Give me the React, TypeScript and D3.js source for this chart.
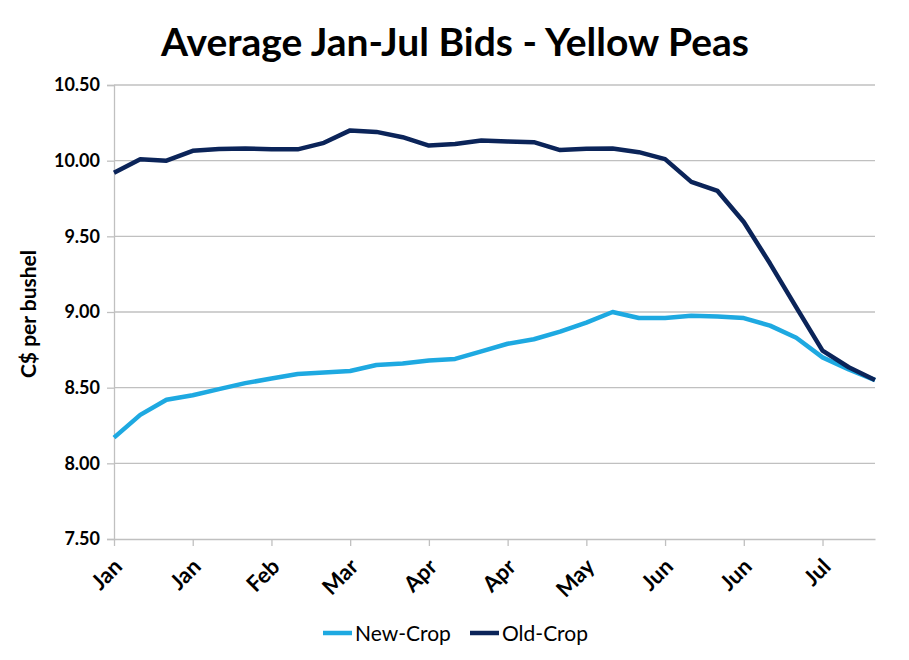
import React, { useEffect, useRef } from 'react';
import * as d3 from 'd3';

// weekly bids, Jan-Jul
const weeks = [
  'Jan', 'Jan', 'Jan', 'Jan', 'Feb', 'Feb', 'Feb', 'Feb', 'Mar', 'Mar',
  'Mar', 'Mar', 'Apr', 'Apr', 'Apr', 'Apr', 'Apr', 'May', 'May', 'May',
  'May', 'Jun', 'Jun', 'Jun', 'Jun', 'Jul', 'Jul', 'Jul', 'Jul', 'Jul',
];

const newCrop = [
  8.17, 8.32, 8.42, 8.45, 8.49, 8.53, 8.56, 8.59, 8.60, 8.61,
  8.65, 8.66, 8.68, 8.69, 8.74, 8.79, 8.82, 8.87, 8.93, 9.00,
  8.96, 8.96, 8.975, 8.97, 8.96, 8.91, 8.83, 8.70, 8.62, 8.55,
];

const oldCrop = [
  9.92, 10.01, 10.00, 10.065, 10.077, 10.08, 10.075, 10.075, 10.118, 10.20,
  10.19, 10.155, 10.10, 10.11, 10.133, 10.127, 10.122, 10.07, 10.078, 10.08,
  10.056, 10.01, 9.86, 9.80, 9.595, 9.32, 9.03, 8.745, 8.635, 8.55,
];

const yTicks = [7.5, 8.0, 8.5, 9.0, 9.5, 10.0, 10.5];

const NEW_COLOR = '#1ea9e1';
const OLD_COLOR = '#0b2459';
const GRID = '#c0c0c0';
const FONT = 'Lato, "Open Sans", sans-serif';

export default function App() {
  const svgRef = useRef<SVGSVGElement>(null);

  useEffect(() => {
    if (!svgRef.current) return;
    const width = 909;
    const height = 660;
    const margin = { top: 85, right: 34, bottom: 121, left: 114 };
    const w = width - margin.left - margin.right;
    const h = height - margin.top - margin.bottom;

    const svg = d3.select(svgRef.current);
    svg.selectAll('*').remove();

    svg.append('text')
      .attr('x', 455)
      .attr('y', 56)
      .attr('text-anchor', 'middle')
      .attr('font-family', FONT)
      .attr('font-weight', 'bold')
      .attr('font-size', 39)
      .attr('fill', '#000')
      .text('Average Jan-Jul Bids - Yellow Peas');

    const g = svg.append('g').attr('transform', `translate(${margin.left},${margin.top})`);

    const x = d3.scaleLinear().domain([0, weeks.length - 1]).range([0, w]);
    const y = d3.scaleLinear().domain([7.5, 10.5]).range([h, 0]);

    // gridlines
    g.append('g')
      .selectAll('line')
      .data(yTicks.slice(1))
      .join('line')
      .attr('x1', 0)
      .attr('x2', w)
      .attr('y1', d => y(d))
      .attr('y2', d => y(d))
      .attr('stroke', GRID)
      .attr('stroke-width', 1.3);

    // y axis
    const yAxis = g.append('g')
      .call(d3.axisLeft(y).tickValues(yTicks).tickSize(7).tickPadding(7).tickFormat(d3.format('.2f')));
    yAxis.select('.domain').attr('stroke', GRID).attr('stroke-width', 1.3);
    yAxis.selectAll('.tick line').attr('stroke', GRID).attr('stroke-width', 1.3);
    yAxis.selectAll('.tick text')
      .attr('font-family', FONT)
      .attr('font-weight', 'bold')
      .attr('font-size', 18)
      .attr('fill', '#000');

    // x axis, a label every 3rd week
    const labelIdx = d3.range(0, weeks.length, 3).filter(i => i < weeks.length - 1);
    const xAxis = g.append('g')
      .attr('transform', `translate(0,${h})`)
      .call(d3.axisBottom(x).tickValues(labelIdx).tickSize(7).tickSizeOuter(0).tickFormat(i => weeks[+i]));
    xAxis.select('.domain').attr('stroke', GRID).attr('stroke-width', 1.3);
    xAxis.selectAll('.tick line').attr('stroke', GRID).attr('stroke-width', 1.3);
    xAxis.selectAll('.tick text')
      .attr('font-family', FONT)
      .attr('font-weight', 'bold')
      .attr('font-size', 22)
      .attr('fill', '#000')
      .attr('text-anchor', 'end')
      .attr('dy', 0)
      .attr('transform', 'translate(2,22) rotate(-45)');

    // y title
    svg.append('text')
      .attr('transform', `translate(36,314) rotate(-90)`)
      .attr('text-anchor', 'middle')
      .attr('font-family', FONT)
      .attr('font-weight', 'bold')
      .attr('font-size', 21)
      .attr('fill', '#000')
      .text('C$ per bushel');

    const line = d3.line<number>()
      .x((_, i) => x(i))
      .y(d => y(d));

    g.append('path')
      .datum(newCrop)
      .attr('fill', 'none')
      .attr('stroke', NEW_COLOR)
      .attr('stroke-width', 4.5)
      .attr('stroke-linejoin', 'round')
      .attr('d', line);

    g.append('path')
      .datum(oldCrop)
      .attr('fill', 'none')
      .attr('stroke', OLD_COLOR)
      .attr('stroke-width', 4.5)
      .attr('stroke-linejoin', 'round')
      .attr('d', line);

    // legend
    const legendItems = [
      { name: 'New-Crop', color: NEW_COLOR, x: 323 },
      { name: 'Old-Crop', color: OLD_COLOR, x: 470 },
    ];
    const legend = svg.append('g').attr('transform', 'translate(0,633)');
    legendItems.forEach(item => {
      legend.append('line')
        .attr('x1', item.x)
        .attr('x2', item.x + 29)
        .attr('y1', 0)
        .attr('y2', 0)
        .attr('stroke', item.color)
        .attr('stroke-width', 4.5);
      legend.append('text')
        .attr('x', item.x + 32)
        .attr('y', 8)
        .attr('font-family', FONT)
        .attr('font-size', 21)
        .attr('fill', '#000')
        .text(item.name);
    });
  }, []);

  return (
    <svg
      ref={svgRef}
      width={909}
      height={660}
      style={{ position: 'absolute', left: 0, top: 0, background: '#fff' }}
    />
  );
}
